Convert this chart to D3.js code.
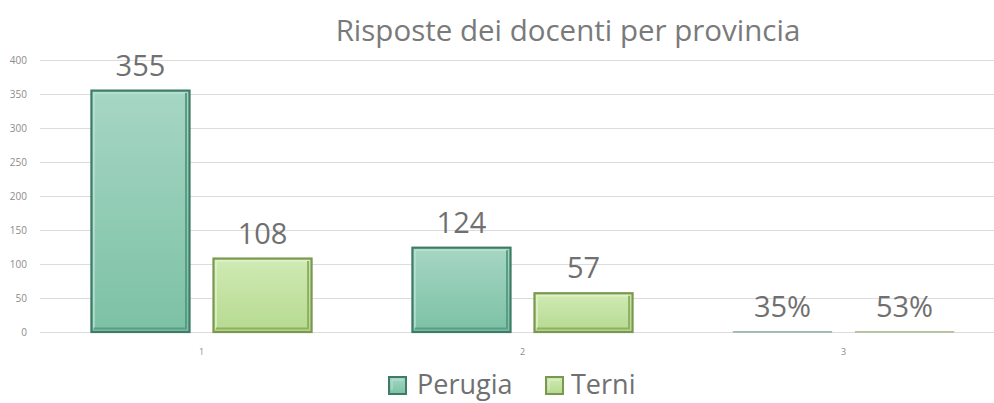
<!DOCTYPE html>
<html><head><meta charset="utf-8">
<script src="https://cdn.jsdelivr.net/npm/d3@7/dist/d3.min.js"></script>
<style>body{margin:0;background:#fff}svg{display:block}</style>
</head><body>
<svg id="c" width="994" height="403"></svg>
<script>
const categories = ["1", "2", "3"];
const seriesNames = ["Perugia", "Terni"];
const perugiaValues = [355, 124, 0.35];
const terniValues = [108, 57, 0.53];
const valueLabels = [["355", "124", "35%"], ["108", "57", "53%"]];
const yTicks = [0, 50, 100, 150, 200, 250, 300, 350, 400];
const title = "Risposte dei docenti per provincia";

const svg = d3.select("#c");
const W = 994, H = 403;
const y = d3.scaleLinear().domain([0, 400]).range([332, 60]);
const x = d3.scaleBand().domain(categories).range([41, 1004]).paddingInner(0).paddingOuter(0);
const xs = d3.scaleBand().domain(seriesNames).range([0, x.bandwidth()]).paddingInner(0.18).paddingOuter(0.405);

const styles = {
  Perugia: {top: "#a6d6c4", bot: "#7cc1a5", stroke: "#3f7c67", hi: "#b9e2d2", dk: "#5a9c84"},
  Terni: {top: "#d0eab4", bot: "#b5da90", stroke: "#7a9850", hi: "#e0f2c9", dk: "#8fb060"}
};
const defs = svg.append("defs");
seriesNames.forEach(s => {
  const g = defs.append("linearGradient").attr("id", "g" + s).attr("x1", 0).attr("y1", 0).attr("x2", 0).attr("y2", 1);
  g.append("stop").attr("offset", "0%").attr("stop-color", styles[s].top);
  g.append("stop").attr("offset", "100%").attr("stop-color", styles[s].bot);
});

// title
svg.append("text").attr("x", 568).attr("y", 41).attr("text-anchor", "middle")
  .attr("font-family", "Open Sans, sans-serif").attr("font-size", 29.5).attr("fill", "#7a7a7a").text(title);

// gridlines
svg.append("g").selectAll("line").data(yTicks).join("line")
  .attr("x1", 40).attr("x2", W).attr("y1", d => Math.round(y(d)) + 0.5).attr("y2", d => Math.round(y(d)) + 0.5)
  .attr("stroke", "#dcdcdc").attr("stroke-width", 1);

// y axis labels
const yAxis = d3.axisLeft(y).tickValues(yTicks).tickSize(0).tickPadding(0);
const ya = svg.append("g").attr("transform", "translate(27,0)").call(yAxis);
ya.select(".domain").remove();
ya.selectAll("text").attr("font-family", "Open Sans, sans-serif").attr("font-size", 10).attr("fill", "#8c8c8c");

// x axis labels
const xAxis = d3.axisBottom(x).tickSize(0).tickPadding(0);
const xa = svg.append("g").attr("transform", "translate(0,349)").call(xAxis);
xa.select(".domain").remove();
xa.selectAll("text").attr("font-family", "Open Sans, sans-serif").attr("font-size", 9).attr("fill", "#8c8c8c");

// bars
const seriesData = [perugiaValues, terniValues];
seriesNames.forEach((s, si) => {
  const st = styles[s];
  const g = svg.append("g");
  const data = categories.map((c, i) => ({c, v: seriesData[si][i], label: valueLabels[si][i]}));
  const bx = d => x(d.c) + xs(s);
  const bw = xs.bandwidth();
  g.selectAll("rect.b").data(data).join("rect").attr("class", "b")
    .attr("x", d => bx(d) + 1).attr("y", d => y(d.v))
    .attr("width", bw - 2).attr("height", d => Math.max(0, y(0) - y(d.v)))
    .attr("fill", `url(#g${s})`).attr("stroke", st.stroke).attr("stroke-width", d => d.v < 5 ? 1.2 : 2.2)
    .attr("stroke-opacity", d => d.v < 5 ? 0.55 : 1);
  // bevel highlights
  g.selectAll("path.hi").data(data.filter(d => d.v > 5)).join("path").attr("class", "hi")
    .attr("d", d => {
      const x0 = bx(d) + 3.5, y0 = y(d.v) + 2.5, x1 = bx(d) + bw - 4.5, y1 = y(0) - 3.5;
      return `M${x0},${y1}L${x0},${y0}L${x1},${y0}`;
    })
    .attr("fill", "none").attr("stroke", st.hi).attr("stroke-width", 1.5);
  g.selectAll("path.dk").data(data.filter(d => d.v > 5)).join("path").attr("class", "dk")
    .attr("d", d => {
      const x0 = bx(d) + 3.5, y0 = y(d.v) + 2.5, x1 = bx(d) + bw - 4.5, y1 = y(0) - 3.5;
      return `M${x1},${y0}L${x1},${y1}L${x0},${y1}`;
    })
    .attr("fill", "none").attr("stroke", st.dk).attr("stroke-width", 2);
  g.selectAll("text").data(data).join("text")
    .attr("x", d => bx(d) + bw / 2).attr("y", d => y(d.v) - 15)
    .attr("text-anchor", "middle").attr("font-family", "Open Sans, sans-serif").attr("font-size", 29)
    .attr("fill", "#707070").text(d => d.label);
});

// legend
const legendItems = [{s: "Perugia", x: 388, tx: 417}, {s: "Terni", x: 545, tx: 571}];
legendItems.forEach(li => {
  const st = styles[li.s];
  svg.append("rect").attr("x", li.x + 1).attr("y", 377).attr("width", 17).attr("height", 17)
    .attr("fill", `url(#g${li.s})`).attr("stroke", st.stroke).attr("stroke-width", 2);
  svg.append("path").attr("d", `M${li.x + 4},${390}L${li.x + 4},${380}L${li.x + 15},${380}`)
    .attr("fill", "none").attr("stroke", st.hi).attr("stroke-width", 1);
  svg.append("text").attr("x", li.tx).attr("y", 394)
    .attr("font-family", "Open Sans, sans-serif").attr("font-size", 27).attr("fill", "#707070").text(li.s);
});
</script>
</body></html>
